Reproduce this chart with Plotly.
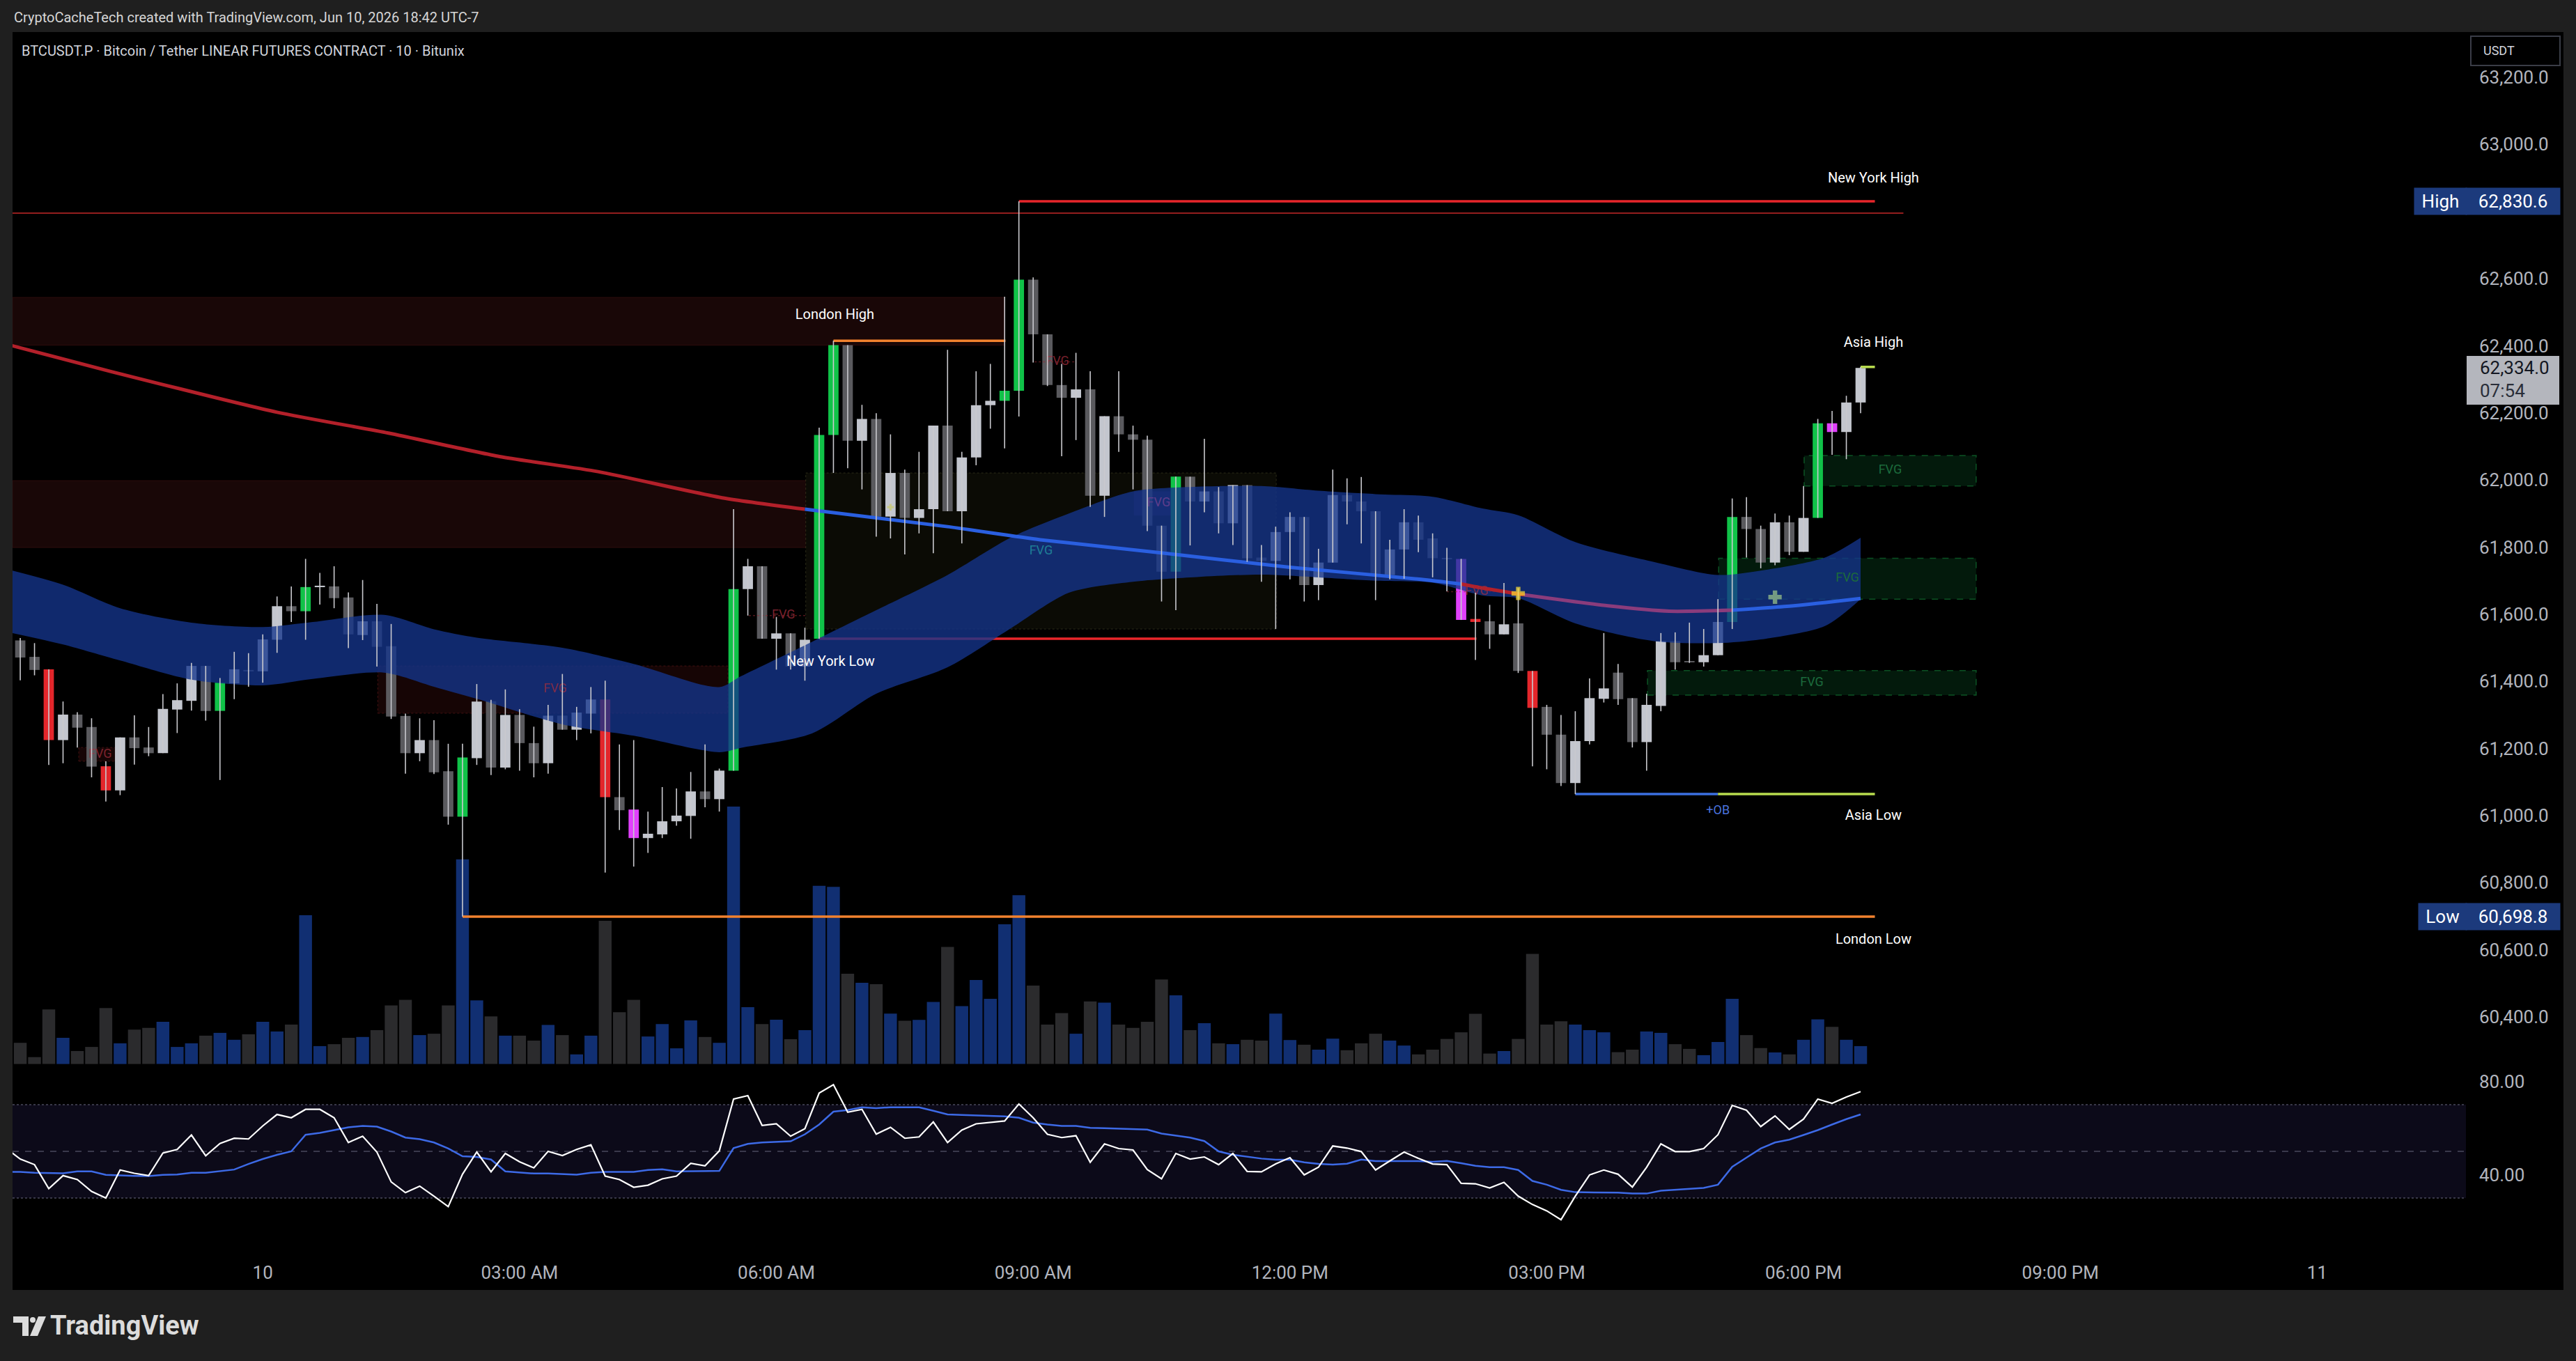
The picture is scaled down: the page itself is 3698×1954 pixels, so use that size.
import plotly.graph_objects as go

# ---------------------------------------------------------------- data
# 10-minute bars, index 0 = Jun 10 00:00 (UTC-7)
bar_index = list(range(-17, 113))
opens = [61522, 61473, 61436, 61225, 61301, 61264, 61147, 61075, 61233, 61203, 61186, 61316, 61342, 61446, 61312, 61394, 61433,
         61430, 61524, 61624, 61609, 61682, 61683, 61650, 61538, 61579, 61505,
         61297, 61186, 61225, 61132, 60997, 61171, 61341, 61143, 61300, 61216,
         61156, 61298, 61256, 61304, 61346, 61055, 61018, 60933, 60944, 60983,
         60999, 61072, 61049, 61134, 61675, 61743, 61527, 61543, 61444, 61527,
         62134, 62402, 62117, 62182, 61891, 62021, 61887, 61913, 62162, 61907,
         62067, 62223, 62236, 62266, 62597, 62434, 62283, 62245, 62270, 61953,
         62190, 62136, 62120, 61864, 61727, 62010, 61936, 61966, 61871, 61985,
         61769, 61759, 61845, 61890, 61687, 61754, 61955, 61936, 61907, 61717,
         61793, 61874, 61826, 61767, 61765, 61586, 61579, 61540, 61573, 61431,
         61324, 61241, 61097, 61222, 61348, 61426, 61350, 61219, 61327, 61520,
         61458, 61457, 61478, 61577, 61890, 61854, 61754, 61874, 61786, 61887,
         62169, 62143, 62231]
highs = [61529, 61514, 61436, 61340, 61308, 61290, 61162, 61233, 61299, 61264, 61362, 61394, 61455, 61446, 61410, 61488, 61484,
         61540, 61653, 61683, 61765, 61723, 61743, 61665, 61702, 61631, 61571,
         61304, 61290, 61284, 61214, 61214, 61392, 61345, 61376, 61317, 61265,
         61330, 61422, 61324, 61383, 61402, 61212, 61225, 61012, 61085, 61081,
         61130, 61212, 61140, 61913, 61765, 61743, 61592, 61543, 61560, 62156,
         62415, 62402, 62224, 62199, 62136, 62031, 62084, 62162, 62388, 62084,
         62324, 62346, 62546, 62830.6, 62604, 62434, 62346, 62379, 62324, 62190,
         62324, 62162, 62132, 61864, 62010, 62010, 62123, 61979, 61985, 61985,
         61806, 61861, 61904, 61890, 61795, 62031, 62005, 62009, 61907, 61822,
         61913, 61894, 61841, 61798, 61765, 61664, 61628, 61693, 61678, 61431,
         61330, 61300, 61311, 61409, 61544, 61452, 61350, 61363, 61544, 61546,
         61575, 61556, 61645, 61945, 61949, 61864, 61900, 61894, 61982, 62182,
         62206, 62251, 62337]
lows = [61403, 61418, 61151, 61156, 61203, 61114, 61042, 61061, 61152, 61177, 61186, 61246, 61313, 61283, 61106, 61347, 61384,
        61396, 61485, 61577, 61524, 61629, 61618, 61499, 61523, 61444, 61288,
        61125, 61162, 61124, 60973, 60698.8, 61151, 61121, 61138, 61134, 61114,
        61125, 61256, 61225, 61245, 60830, 60957, 60848, 60889, 60933, 60970,
        60931, 61025, 61012, 61134, 61596, 61527, 61435, 61435, 61402, 61527,
        62021, 62035, 61972, 61831, 61826, 61778, 61841, 61782, 61907, 61811,
        62044, 62153, 62094, 62189, 62350, 62280, 62071, 62119, 61920, 61890,
        62084, 61972, 61848, 61638, 61612, 61805, 61904, 61841, 61806, 61756,
        61697, 61556, 61704, 61638, 61642, 61754, 61868, 61811, 61642, 61704,
        61706, 61785, 61710, 61668, 61583, 61464, 61497, 61540, 61425, 61147,
        61138, 61088, 61064, 61212, 61337, 61330, 61203, 61134, 61311, 61435,
        61455, 61444, 61478, 61556, 61769, 61737, 61746, 61776, 61786, 61887,
        62075, 62062, 62199]
closes = [61471, 61434, 61225, 61301, 61262, 61146, 61075, 61233, 61201, 61186, 61318, 61344, 61446, 61312, 61396, 61436, 61431,
          61525, 61624, 61609, 61681, 61683, 61648, 61540, 61579, 61503, 61295,
          61186, 61225, 61129, 60997, 61173, 61340, 61143, 61300, 61216, 61156,
          61298, 61256, 61307, 61346, 61055, 61016, 60933, 60946, 60983, 61000,
          61072, 61049, 61134, 61675, 61743, 61527, 61543, 61444, 61524, 62134,
          62402, 62117, 62182, 61891, 62021, 61887, 61913, 62162, 61907, 62067,
          62223, 62236, 62266, 62597, 62434, 62283, 62245, 62270, 61953, 62190,
          62136, 62120, 61864, 61727, 62010, 61936, 61966, 61871, 61985, 61767,
          61759, 61845, 61890, 61687, 61754, 61955, 61936, 61907, 61717, 61793,
          61874, 61822, 61767, 61765, 61583, 61577, 61540, 61570, 61431, 61321,
          61241, 61097, 61222, 61350, 61379, 61347, 61219, 61330, 61520, 61457,
          61457, 61478, 61577, 61890, 61854, 61754, 61874, 61786, 61887, 62169,
          62143, 62231, 62334]
# bars painted by the volume/signal indicator
signal_bars = [-15, -11, -3, 3, 14, 24, 26, 33, 39, 40, 52, 53, 64, 84, 85, 89, 103, 109, 110]
signal_kind = ['R', 'R', 'G', 'G', 'G', 'R', 'M', 'G', 'G', 'G', 'G', 'G', 'G', 'M', 'R', 'R', 'G', 'G', 'M']

volume = [30.4, 9.9, 78.3, 37.6, 18.6, 24.5, 80.3, 29.7, 49.4, 51.8, 60.5, 24.5, 29.7, 40.7, 44.7, 34.8, 42.7,
          60.5, 46.7, 56.5, 213.5, 25.7, 28.5, 37.6, 38.8, 48.6, 84.2,
          92.1, 41.5, 43.5, 84.2, 293.8, 91.3, 68.4, 40.7, 40.7, 33.6,
          56.1, 41.5, 13.8, 40.7, 205.6, 74.3, 92.1, 39.5, 57.3, 22.5,
          62.5, 38.8, 30.4, 369.7, 81.5, 57.3, 63.7, 35.6, 48.6, 255.8,
          254.3, 129.7, 116.6, 114.7, 72.4, 62.1, 63.3, 89.0, 168.1, 83.0,
          120.6, 93.7, 200.5, 242.4, 112.7, 56.5, 73.2, 43.5, 89.8, 88.2,
          56.5, 51.8, 60.5, 121.4, 98.5, 48.6, 58.5, 29.7, 28.5, 34.8,
          33.6, 72.4, 34.4, 27.7, 20.6, 36.4, 19.8, 29.7, 43.5, 33.6,
          26.5, 13.8, 20.6, 36.0, 45.5, 72.0, 15.0, 18.6, 36.0, 158.2,
          56.5, 61.3, 56.5, 48.6, 45.5, 17.0, 20.6, 46.7, 44.7, 28.5,
          21.7, 12.7, 31.6, 93.7, 41.5, 22.9, 16.6, 13.8, 34.8, 64.1,
          53.4, 34.8, 25.7]

rsi_index = list(range(-18, 113))
rsi = [51.4, 46.7, 44.3, 34.0, 39.6, 37.9, 32.8, 30.0, 42.0, 40.6, 39.6, 49.3, 50.8, 57.0, 48.1, 53.4, 55.6, 55.3,
       60.9, 65.8, 64.4, 68.0, 68.0, 64.4, 53.8, 56.5, 49.7, 36.9,
       32.3, 35.1, 30.8, 26.3, 40.2, 49.7, 41.2, 49.1, 45.5, 42.9,
       50.0, 48.2, 50.8, 52.8, 39.4, 37.9, 34.6, 35.5, 38.2, 39.4,
       44.9, 43.8, 50.2, 72.4, 73.9, 61.1, 61.8, 56.5, 59.7, 75.0,
       78.6, 66.8, 68.0, 57.4, 60.3, 55.6, 56.2, 62.6, 53.8, 59.1,
       61.8, 62.3, 63.0, 70.3, 64.4, 57.3, 55.9, 56.7, 45.3, 53.2,
       51.2, 50.6, 42.2, 38.2, 49.1, 46.7, 47.6, 44.3, 49.1, 41.4,
       41.2, 44.6, 47.3, 39.9, 43.2, 52.3, 51.4, 49.9, 42.0, 45.9,
       49.7, 47.0, 44.6, 44.3, 36.3, 36.1, 34.3, 36.7, 30.8, 27.2,
       24.5, 20.7, 30.8, 39.9, 42.0, 40.2, 34.7, 43.2, 53.2, 49.9,
       49.9, 51.2, 57.1, 69.7, 67.6, 60.6, 65.2, 59.4, 63.8, 72.4,
       70.6, 73.3, 75.6]
rsi_ma = [41.2, 41.2, 40.8, 40.6, 40.6, 41.4, 41.4, 39.9, 39.6, 39.5, 39.4, 39.9, 40.1, 40.8, 40.8, 41.5, 42.2, 44.6,
          46.7, 48.5, 50.0, 57.1, 57.9, 59.1, 60.3, 60.9, 60.6, 58.5,
          55.9, 55.2, 53.8, 51.2, 47.9, 47.6, 46.5, 41.4, 41.0, 40.5,
          40.5, 40.2, 40.0, 40.8, 41.2, 41.2, 41.2, 42.0, 42.3, 41.4,
          41.4, 41.4, 41.6, 51.4, 53.2, 53.8, 54.0, 54.3, 57.3, 61.5,
          67.0, 67.7, 68.9, 68.5, 68.9, 68.9, 68.9, 67.4, 65.8, 65.6,
          65.4, 65.4, 65.0, 64.4, 62.3, 61.5, 60.9, 60.9, 60.1, 59.9,
          59.7, 59.3, 59.3, 57.6, 56.7, 55.9, 54.4, 50.0, 48.5, 47.6,
          46.9, 46.4, 46.4, 45.3, 44.6, 44.3, 44.7, 46.5, 45.8, 45.8,
          45.8, 45.8, 45.5, 45.9, 44.9, 43.8, 43.2, 43.2, 42.0, 37.3,
          35.7, 33.5, 32.5, 32.5, 32.5, 32.3, 31.9, 31.9, 33.1, 33.5,
          33.9, 34.3, 35.7, 43.4, 47.3, 51.2, 53.8, 55.0, 57.0, 59.1,
          61.5, 63.8, 65.8]

# long moving average (knots) and its colour per segment
ma_x = [-18, -10.7, 1, 8.8, 16.6, 23.5, 32.2, 38, 48, 54.5, 63.2, 72, 81.2, 84, 85.5, 88.4, 94.3, 98.6, 103, 107.3, 112]
ma_y = [62405, 62324, 62202, 62140, 62070, 62025, 61947, 61913, 61861, 61822, 61782, 61740, 61704, 61690, 61678,
        61658, 61625, 61609, 61612, 61625, 61647]
ma_breaks = [0, 7, 13, 15, 18, 20]
ma_colors = ['#b3202a', '#2a5fe0', '#b3202a', '#8a3c7c', '#2a5fe0']

# blue cloud
band_x = [-18, -14, -10, -5, 0, 3.5, 8.5, 12, 15, 21, 26, 32, 33.5, 38.5, 43, 48, 52.5, 56.5, 61, 65.5, 70, 74,
          78, 82, 85.5, 88, 92, 97.5, 102, 105, 109.5, 112]
band_up = [61735, 61688, 61618, 61575, 61562, 61577, 61598, 61555, 61530, 61500, 61452, 61383, 61415, 61518, 61612,
           61717, 61830, 61900, 61966, 61980, 61982, 61968, 61958, 61950, 61915, 61895, 61815, 61756, 61717, 61730,
           61769, 61828]
band_lo = [61548, 61510, 61462, 61405, 61388, 61407, 61426, 61384, 61348, 61272, 61238, 61189, 61202, 61245, 61363,
           61442, 61560, 61664, 61697, 61711, 61718, 61710, 61700, 61694, 61656, 61648, 61573, 61520, 61514, 61525,
           61565, 61645]

# supply zones
zone_x0 = [-17.54, -17.54]
zone_x1 = [52.0, 38.65]
zone_lo = [62402, 61799]
zone_hi = [62544, 61998]

# bearish FVG boxes / labels
fvg_r_x0 = [-12.9, 8.06]
fvg_r_x1 = [-10.3, 32.6]
fvg_r_lo = [61162, 61305]
fvg_r_hi = [61203, 61446]
fvg_r_lab_x = [-11.4, 20.5, 36.5, 55.7, 85.1]
fvg_r_lab_y = [61182, 61376, 61596, 62352, 61667]
fvg_dot_x0 = [34.07, 54.1, 83.0]
fvg_dot_x1 = [38.06, 57.0, 86.4]
fvg_dot_y = [61596, 62352, 61667]
# big neutral box with teal label, purple box
olive_box = [38.06, 71.04, 61556, 62021]
purple_box = [61.06, 63.67, 61894, 61966]
# bullish FVG boxes
fvg_g_x0 = [108.04, 102.05, 97.06]
fvg_g_x1 = [120.1, 120.1, 120.1]
fvg_g_lo = [61982, 61645, 61359]
fvg_g_hi = [62073, 61767, 61432]

# session levels
ath_price = 62830.6
atl_price = 60698.8
prev_high = 62795
london_high = 62415
ny_low = 61527
asia_high = 62337
asia_low = 61064
last_price = 62334.0

session_label_text = ['New York High', 'Asia High', 'London High', 'New York Low', 'Asia Low', 'London Low']
session_label_x = [112.9, 112.9, 40.1, 39.8, 112.9, 112.9]
session_label_y = [62897, 62407, 62490, 61457, 60998, 60628]

marker_x = [88, 106, 44]
marker_y = [61662, 61651, 61919]

# 62,800 sits under the "High" tag in the reference, so it is not listed
price_ticks = [60400, 60600, 60800, 61000, 61200, 61400, 61600, 61800, 62000, 62200, 62400, 62600, 63000, 63200]
time_tick_vals = [0, 18, 36, 54, 72, 90, 108, 126, 144]
time_tick_text = ['10', '03:00 AM', '06:00 AM', '09:00 AM', '12:00 PM', '03:00 PM', '06:00 PM', '09:00 PM', '11']
rsi_ticks = [40, 80]

# ---------------------------------------------------------------- geometry
W, H = 3698, 1954
ML, MR, MT, MB = 18, 158, 46, 164
PW, PH = W - ML - MR, H - MT - MB


def pxx(x):
    return (x - ML) / PW


def pxy(y):
    return (H - MB - y) / PH


X0, X1 = -17.54, 154.43
FONT = 'Roboto'

COL_LIGHT = '#c3c6ce'
COL_DARK = '#5a5a5e'
SIG_COL = {'G': '#10c248', 'R': '#e3262b', 'M': '#e040fb'}

fig = go.Figure()

# ---------------------------------------------------------------- volume (base axis y)
vol_col = ['#112f72' if c >= o else '#2b2b2d' for o, c in zip(opens, closes)]
fig.add_trace(go.Bar(x=bar_index, y=volume, width=0.9, marker=dict(color=vol_col, line=dict(width=0)),
                     xaxis='x', yaxis='y', hoverinfo='skip'))

# ---------------------------------------------------------------- level lines (price axis y3)


def hline(x0, x1, y, color, width, dash='solid'):
    fig.add_trace(go.Scatter(x=[x0, x1], y=[y, y], mode='lines', line=dict(color=color, width=width, dash=dash),
                             xaxis='x', yaxis='y3', hoverinfo='skip'))


for x0, x1, y in zip(fvg_dot_x0, fvg_dot_x1, fvg_dot_y):
    hline(x0, x1, y, 'rgba(150,40,50,0.55)', 1.5, 'dot')

hline(-18, 115, prev_high, '#c62828', 1.5)
hline(53, 113, ath_price, '#e8262b', 3.5)
hline(40, 52.06, london_high, '#f2822e', 3.5)
hline(14, 113, atl_price, '#f2822e', 3.5)
hline(39, 85.07, ny_low, '#e8262b', 3.5)
hline(112, 113, asia_high, '#b8dc4e', 3.5)
hline(92, 102, asia_low, '#3b6fe0', 3.5)
hline(102, 113, asia_low, '#b8dc4e', 3.5)

# ---------------------------------------------------------------- cloud + moving average
fig.add_trace(go.Scatter(x=band_x, y=band_lo, mode='lines', line=dict(width=0, shape='spline', smoothing=0.8),
                         xaxis='x', yaxis='y3', hoverinfo='skip'))
fig.add_trace(go.Scatter(x=band_x, y=band_up, mode='lines', line=dict(width=0, shape='spline', smoothing=0.8),
                         fill='tonexty', fillcolor='rgba(20,52,140,0.78)', xaxis='x', yaxis='y3', hoverinfo='skip'))

for k in range(len(ma_colors)):
    a, b = ma_breaks[k], ma_breaks[k + 1]
    fig.add_trace(go.Scatter(x=ma_x[a:b + 1], y=ma_y[a:b + 1], mode='lines',
                             line=dict(color=ma_colors[k], width=5, shape='spline', smoothing=0.6),
                             xaxis='x', yaxis='y3', hoverinfo='skip'))

# ---------------------------------------------------------------- text labels under candles
fig.add_trace(go.Scatter(x=fvg_r_lab_x, y=fvg_r_lab_y, mode='text', text=['FVG'] * len(fvg_r_lab_x),
                         textfont=dict(family=FONT, size=18, color='rgba(160,45,60,0.75)'),
                         xaxis='x', yaxis='y3', hoverinfo='skip'))
fig.add_trace(go.Scatter(x=[(olive_box[0] + olive_box[1]) / 2], y=[(olive_box[2] + olive_box[3]) / 2], mode='text',
                         text=['FVG'], textfont=dict(family=FONT, size=18, color='#1f7d96'),
                         xaxis='x', yaxis='y3', hoverinfo='skip'))
fig.add_trace(go.Scatter(x=[62.8], y=[(purple_box[2] + purple_box[3]) / 2], mode='text', text=['FVG'],
                         textfont=dict(family=FONT, size=18, color='#5d3d8c'),
                         xaxis='x', yaxis='y3', hoverinfo='skip'))
fig.add_trace(go.Scatter(x=[(a + b) / 2 for a, b in zip(fvg_g_x0, fvg_g_x1)],
                         y=[(a + b) / 2 for a, b in zip(fvg_g_lo, fvg_g_hi)], mode='text', text=['FVG'] * 3,
                         textfont=dict(family=FONT, size=18, color='#1c6b3c'),
                         xaxis='x', yaxis='y3', hoverinfo='skip'))
fig.add_trace(go.Scatter(x=[102], y=[61013], mode='text', text=['+OB'],
                         textfont=dict(family=FONT, size=18, color='#4a72dc'),
                         xaxis='x', yaxis='y3', hoverinfo='skip'))
fig.add_trace(go.Scatter(x=session_label_x, y=session_label_y, mode='text', text=session_label_text,
                         textfont=dict(family=FONT, size=20, color='#ffffff'),
                         xaxis='x', yaxis='y3', hoverinfo='skip'))

# ---------------------------------------------------------------- candles
wx, wy = [], []
for i, h, l in zip(bar_index, highs, lows):
    wx += [i, i, None]
    wy += [l, h, None]
fig.add_trace(go.Scatter(x=wx, y=wy, mode='lines', line=dict(color='#c9c9ce', width=1.6),
                         xaxis='x', yaxis='y3', hoverinfo='skip'))

sig = dict(zip(signal_bars, signal_kind))
body_base, body_h, body_col = [], [], []
for i, o, c in zip(bar_index, opens, closes):
    body_base.append(min(o, c))
    body_h.append(max(abs(c - o), 3))
    if i in sig:
        body_col.append(SIG_COL[sig[i]])
    else:
        body_col.append(COL_LIGHT if c >= o else COL_DARK)
fig.add_trace(go.Bar(x=bar_index, y=body_h, base=body_base, width=0.72,
                     marker=dict(color=body_col, line=dict(width=0)), xaxis='x', yaxis='y3', hoverinfo='skip'))

# cross markers
fig.add_trace(go.Scatter(x=marker_x, y=marker_y, mode='markers',
                         marker=dict(symbol='cross', size=[16, 16, 8], color=['#ffe033', '#9fc98a', '#c9c96a'],
                                     line=dict(width=0)),
                         xaxis='x', yaxis='y3', hoverinfo='skip'))

# ---------------------------------------------------------------- RSI pane
fig.add_trace(go.Scatter(x=rsi_index, y=rsi_ma, mode='lines', line=dict(color='#3d6ae6', width=2.5),
                         xaxis='x', yaxis='y2', hoverinfo='skip'))
fig.add_trace(go.Scatter(x=rsi_index, y=rsi, mode='lines', line=dict(color='#ffffff', width=2.2),
                         xaxis='x', yaxis='y2', hoverinfo='skip'))

# ---------------------------------------------------------------- shapes
shapes = []
# black chart panel
shapes.append(dict(type='rect', xref='paper', yref='paper', x0=pxx(18), x1=pxx(3680), y0=pxy(1852), y1=pxy(46),
                   fillcolor='#000000', line=dict(width=0), layer='below'))
for x0, x1, lo, hi in zip(zone_x0, zone_x1, zone_lo, zone_hi):
    shapes.append(dict(type='rect', xref='x', yref='y3', x0=x0, x1=x1, y0=lo, y1=hi,
                       fillcolor='#190707', line=dict(color='#2e0c0c', width=1), layer='below'))
for x0, x1, lo, hi in zip(fvg_r_x0, fvg_r_x1, fvg_r_lo, fvg_r_hi):
    shapes.append(dict(type='rect', xref='x', yref='y3', x0=x0, x1=x1, y0=lo, y1=hi,
                       fillcolor='#160505', line=dict(color='rgba(120,30,30,0.5)', width=1, dash='dot'), layer='below'))
shapes.append(dict(type='rect', xref='x', yref='y3', x0=olive_box[0], x1=olive_box[1], y0=olive_box[2],
                   y1=olive_box[3], fillcolor='#0b0b05', line=dict(color='rgba(90,90,50,0.45)', width=1, dash='dot'),
                   layer='below'))
shapes.append(dict(type='rect', xref='x', yref='y3', x0=purple_box[0], x1=purple_box[1], y0=purple_box[2],
                   y1=purple_box[3], fillcolor='rgba(70,35,110,0.35)', line=dict(width=0), layer='below'))
for x0, x1, lo, hi in zip(fvg_g_x0, fvg_g_x1, fvg_g_lo, fvg_g_hi):
    shapes.append(dict(type='rect', xref='x', yref='y3', x0=x0, x1=x1, y0=lo, y1=hi,
                       fillcolor='#031a0c', line=dict(color='rgba(20,140,60,0.55)', width=1.5, dash='dash'),
                       layer='below'))
# RSI background band and guides
shapes.append(dict(type='rect', xref='x', yref='y2', x0=X0, x1=X1, y0=30, y1=70,
                   fillcolor='#0c0a19', line=dict(width=0), layer='below'))
for lvl, dash in ((70, 'dot'), (50, 'dash'), (30, 'dot')):
    shapes.append(dict(type='line', xref='x', yref='y2', x0=X0, x1=X1, y0=lvl, y1=lvl,
                       line=dict(color='#4a4a5c', width=1.5, dash=dash), layer='below'))
# USDT box
shapes.append(dict(type='rect', xref='paper', yref='paper', x0=pxx(3547), x1=pxx(3675), y0=pxy(94), y1=pxy(52),
                   fillcolor='#000000', line=dict(color='#3a3d47', width=2), layer='above'))
# last-price tag box
shapes.append(dict(type='rect', xref='paper', yref='paper', x0=pxx(3541), x1=pxx(3674), y0=pxy(581), y1=pxy(511),
                   fillcolor='#b4b6bd', line=dict(width=0), layer='above'))
# TradingView logo
LC = '#dcdcdc'
shapes.append(dict(type='path', xref='paper', yref='paper', layer='above', fillcolor=LC, line=dict(width=0),
                   path='M {a},{b} L {c},{b} L {c},{d} L {e},{d} L {e},{f} L {a},{f} Z'.format(
                       a=pxx(19), b=pxy(1890), c=pxx(41), d=pxy(1918), e=pxx(32), f=pxy(1899))))
shapes.append(dict(type='circle', xref='paper', yref='paper', layer='above', fillcolor=LC, line=dict(width=0),
                   x0=pxx(43), x1=pxx(51), y0=pxy(1899), y1=pxy(1891)))
shapes.append(dict(type='path', xref='paper', yref='paper', layer='above', fillcolor=LC, line=dict(width=0),
                   path='M {a},{b} L {c},{b} L {d},{e} L {f},{e} Z'.format(
                       a=pxx(55), b=pxy(1890), c=pxx(66), d=pxx(54), e=pxy(1918), f=pxx(43))))

# ---------------------------------------------------------------- annotations
ann = []
ann.append(dict(xref='paper', yref='paper', x=pxx(18), y=pxy(25), xanchor='left', yanchor='middle', showarrow=False,
                text='CryptoCacheTech created with TradingView.com, Jun 10, 2026 18:42 UTC-7',
                font=dict(family=FONT, size=20, color='#d6d6d6')))
ann.append(dict(xref='paper', yref='paper', x=pxx(29), y=pxy(73), xanchor='left', yanchor='middle', showarrow=False,
                text='BTCUSDT.P · Bitcoin / Tether LINEAR FUTURES CONTRACT · 10 · Bitunix',
                font=dict(family=FONT, size=20, color='#d1d4dc')))
ann.append(dict(xref='paper', yref='paper', x=pxx(70), y=pxy(1903), xanchor='left', yanchor='middle', showarrow=False,
                text='<b>TradingView</b>', font=dict(family=FONT, size=38, color=LC)))
ann.append(dict(xref='paper', yref='paper', x=pxx(3563), y=pxy(73), xanchor='left', yanchor='middle', showarrow=False,
                text='USDT', font=dict(family=FONT, size=18, color='#d1d4dc')))
# High / Low tags
for name, price, x_lab, w_lab in (('High', ath_price, 3503.5, 73), ('Low', atl_price, 3506.5, 67)):
    ann.append(dict(xref='paper', yref='y3', x=pxx(x_lab), y=price, xanchor='center', yanchor='middle',
                    showarrow=False, text=name, width=w_lab, height=36, bgcolor='#1c3a7c',
                    font=dict(family=FONT, size=26, color='#ffffff')))
    ann.append(dict(xref='paper', yref='y3', x=pxx(3607.5), y=price, xanchor='center', yanchor='middle',
                    showarrow=False, text='{:,.1f}'.format(price), width=133, height=36, bgcolor='#1c3a7c',
                    font=dict(family=FONT, size=26, color='#ffffff')))
# last price + countdown
ann.append(dict(xref='paper', yref='paper', x=pxx(3558), y=pxy(528), xanchor='left', yanchor='middle',
                showarrow=False, text='{:,.1f}'.format(last_price), font=dict(family=FONT, size=26, color='#131722')))
ann.append(dict(xref='paper', yref='paper', x=pxx(3558), y=pxy(561), xanchor='left', yanchor='middle',
                showarrow=False, text='07:54', font=dict(family=FONT, size=26, color='#2a2e39')))

# ---------------------------------------------------------------- layout
axis_font = dict(family=FONT, size=26, color='#b2b5be')
fig.update_layout(
    width=W, height=H,
    margin=dict(l=ML, r=MR, t=MT, b=MB, pad=0),
    paper_bgcolor='#1f1f1f', plot_bgcolor='rgba(0,0,0,0)',
    showlegend=False, hovermode=False, barmode='overlay',
    shapes=shapes, annotations=ann,
    xaxis=dict(domain=[0, 1], anchor='y2', range=[X0, X1], tickmode='array', tickvals=time_tick_vals,
               ticktext=time_tick_text, showgrid=False, zeroline=False, showline=False, ticks='',
               tickfont=axis_font, ticklabelstandoff=19, fixedrange=True),
    yaxis=dict(domain=[pxy(1535), 1], anchor='x', range=[-7.4, 1481.6], visible=False, showgrid=False,
               fixedrange=True),
    yaxis3=dict(overlaying='y', anchor='x', side='right', range=[60244.4, 63334.9], tickmode='array',
                tickvals=price_ticks, ticktext=['{:,.1f}'.format(v) for v in price_ticks], showgrid=False,
                zeroline=False, showline=False, ticks='', tickfont=axis_font, ticklabelstandoff=18, fixedrange=True),
    yaxis2=dict(domain=[0, pxy(1540)], anchor='x', side='right', range=[9.1, 83.73], tickmode='array',
                tickvals=rsi_ticks, ticktext=['{:.2f}'.format(v) for v in rsi_ticks], showgrid=False,
                zeroline=False, showline=False, ticks='', tickfont=axis_font, ticklabelstandoff=18, fixedrange=True),
)

fig.write_html('out.html', config={'displayModeBar': False},
               post_script="document.body.style.margin='0';document.body.style.overflow='hidden';")
